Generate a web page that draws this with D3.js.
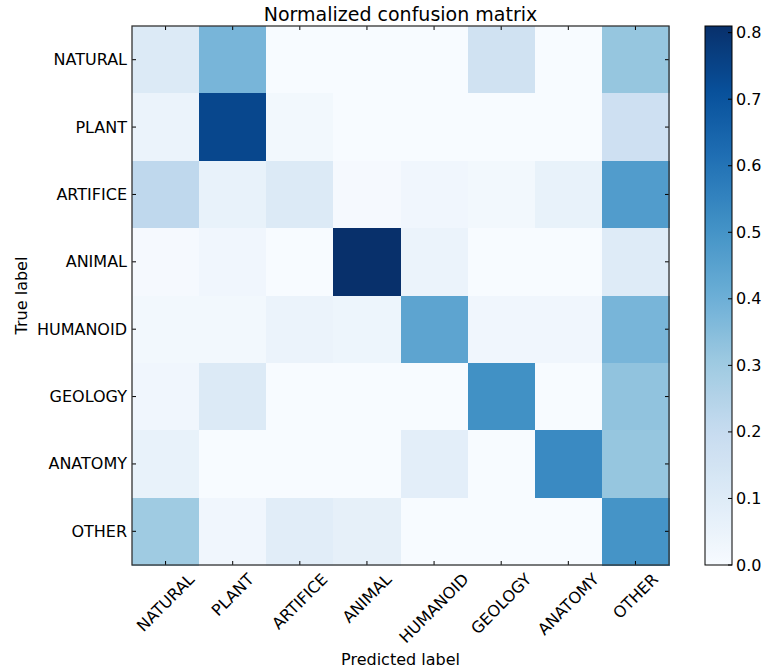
<!DOCTYPE html>
<html>
<head>
<meta charset="utf-8">
<script src="https://cdn.jsdelivr.net/npm/d3@7"></script>
<style>
  body { margin: 0; background: #fff; }
  text { font-family: "DejaVu Sans", sans-serif; fill: #000; }
</style>
</head>
<body>
<div id="chart"></div>
<script>
// class names, in the same order for rows (true) and columns (predicted)
const classes = ['NATURAL', 'PLANT', 'ARTIFICE', 'ANIMAL', 'HUMANOID', 'GEOLOGY', 'ANATOMY', 'OTHER'];

// normalized confusion matrix rows
const rowNatural  = [0.11, 0.38, 0.00, 0.00, 0.00, 0.16, 0.00, 0.32];
const rowPlant    = [0.05, 0.74, 0.02, 0.00, 0.00, 0.00, 0.00, 0.17];
const rowArtifice = [0.22, 0.06, 0.11, 0.01, 0.03, 0.02, 0.06, 0.47];
const rowAnimal   = [0.01, 0.03, 0.00, 0.81, 0.05, 0.00, 0.00, 0.10];
const rowHumanoid = [0.02, 0.02, 0.05, 0.04, 0.44, 0.03, 0.03, 0.38];
const rowGeology  = [0.03, 0.11, 0.00, 0.00, 0.00, 0.51, 0.00, 0.33];
const rowAnatomy  = [0.06, 0.00, 0.00, 0.00, 0.08, 0.00, 0.53, 0.32];
const rowOther    = [0.30, 0.03, 0.09, 0.07, 0.00, 0.00, 0.00, 0.50];

const colorbarTicks = [0.0, 0.1, 0.2, 0.3, 0.4, 0.5, 0.6, 0.7, 0.8];

const matrix = [rowNatural, rowPlant, rowArtifice, rowAnimal, rowHumanoid, rowGeology, rowAnatomy, rowOther];

const width = 762, height = 670;
const plot = { left: 132, top: 26, right: 669, bottom: 565 };
const cbar = { left: 705, right: 732 };
const fs = 16;

const svg = d3.select('#chart')
    .append('svg')
    .attr('width', width)
    .attr('height', height);

// matplotlib style Blues: linear between the 9 brewer colours
const vmax = d3.max(matrix.flat());
const color = d3.scaleSequential(d3.piecewise(d3.interpolateRgb, d3.schemeBlues[9]))
    .domain([0, vmax]);

const x = d3.scaleBand().domain(classes).range([plot.left, plot.right]);
const y = d3.scaleBand().domain(classes).range([plot.top, plot.bottom]);

// cells
const cells = [];
matrix.forEach((row, i) => row.forEach((v, j) => cells.push({ t: classes[i], p: classes[j], v })));

svg.append('g')
    .selectAll('rect')
    .data(cells)
    .enter()
    .append('rect')
    .attr('x', d => x(d.p))
    .attr('y', d => y(d.t))
    .attr('width', x.bandwidth() + 0.5)
    .attr('height', y.bandwidth() + 0.5)
    .attr('fill', d => color(d.v))
    .attr('shape-rendering', 'crispEdges');

// inward ticks on all four sides
const tickLen = 4;
const ticks = svg.append('g').attr('stroke', '#000').attr('stroke-width', 1);
classes.forEach(c => {
    const cx = x(c) + x.bandwidth() / 2;
    const cy = y(c) + y.bandwidth() / 2;
    ticks.append('line').attr('x1', cx).attr('x2', cx).attr('y1', plot.top).attr('y2', plot.top + tickLen);
    ticks.append('line').attr('x1', cx).attr('x2', cx).attr('y1', plot.bottom).attr('y2', plot.bottom - tickLen);
    ticks.append('line').attr('y1', cy).attr('y2', cy).attr('x1', plot.left).attr('x2', plot.left + tickLen);
    ticks.append('line').attr('y1', cy).attr('y2', cy).attr('x1', plot.right).attr('x2', plot.right - tickLen);
});

// frame
svg.append('rect')
    .attr('x', plot.left)
    .attr('y', plot.top)
    .attr('width', plot.right - plot.left)
    .attr('height', plot.bottom - plot.top)
    .attr('fill', 'none')
    .attr('stroke', '#333')
    .attr('stroke-width', 1.3);

// y tick labels
svg.append('g')
    .selectAll('text')
    .data(classes)
    .enter()
    .append('text')
    .attr('x', plot.left - 5)
    .attr('y', d => y(d) + y.bandwidth() / 2)
    .attr('text-anchor', 'end')
    .attr('dominant-baseline', 'central')
    .style('font-size', fs + 'px')
    .text(d => d);

// x tick labels, rotated 45deg with bounding box centred on the tick
svg.append('g')
    .selectAll('text')
    .data(classes)
    .enter()
    .append('text')
    .style('font-size', fs + 'px')
    .attr('text-anchor', 'middle')
    .attr('dominant-baseline', 'central')
    .text(d => d)
    .each(function (d) {
        const w = this.getComputedTextLength();
        const h = fs * 0.8;
        const cx = x(d) + x.bandwidth() / 2;
        const cy = plot.bottom + 7 + (w + h) * Math.SQRT1_2 / 2;
        d3.select(this)
            .attr('x', cx)
            .attr('y', cy)
            .attr('transform', `rotate(-45,${cx},${cy})`);
    });

// title and axis labels
svg.append('text')
    .attr('x', (plot.left + plot.right) / 2)
    .attr('y', 21)
    .attr('text-anchor', 'middle')
    .style('font-size', '19px')
    .text('Normalized confusion matrix');

svg.append('text')
    .attr('x', (plot.left + plot.right) / 2)
    .attr('y', 665)
    .attr('text-anchor', 'middle')
    .style('font-size', fs + 'px')
    .text('Predicted label');

svg.append('text')
    .attr('transform', `translate(27,${(plot.top + plot.bottom) / 2}) rotate(-90)`)
    .attr('text-anchor', 'middle')
    .style('font-size', fs + 'px')
    .text('True label');

// colorbar
const cScale = d3.scaleLinear().domain([0, vmax]).range([plot.bottom, plot.top]);
const grad = svg.append('defs').append('linearGradient')
    .attr('id', 'cbar')
    .attr('x1', 0).attr('x2', 0).attr('y1', 1).attr('y2', 0);
d3.range(0, 1.0001, 0.02).forEach(t => {
    grad.append('stop').attr('offset', t).attr('stop-color', color(t * vmax));
});
svg.append('rect')
    .attr('x', cbar.left)
    .attr('y', plot.top)
    .attr('width', cbar.right - cbar.left)
    .attr('height', plot.bottom - plot.top)
    .attr('fill', 'url(#cbar)')
    .attr('stroke', '#000')
    .attr('stroke-width', 1);

const cAxis = svg.append('g');
cAxis.selectAll('line')
    .data(colorbarTicks)
    .enter()
    .append('line')
    .attr('x1', cbar.right - tickLen)
    .attr('x2', cbar.right)
    .attr('y1', d => cScale(d))
    .attr('y2', d => cScale(d))
    .attr('stroke', '#000');
cAxis.selectAll('text')
    .data(colorbarTicks)
    .enter()
    .append('text')
    .attr('x', cbar.right + 4)
    .attr('y', d => cScale(d))
    .attr('dominant-baseline', 'central')
    .style('font-size', fs + 'px')
    .text(d3.format('.1f'));
</script>
</body>
</html>
